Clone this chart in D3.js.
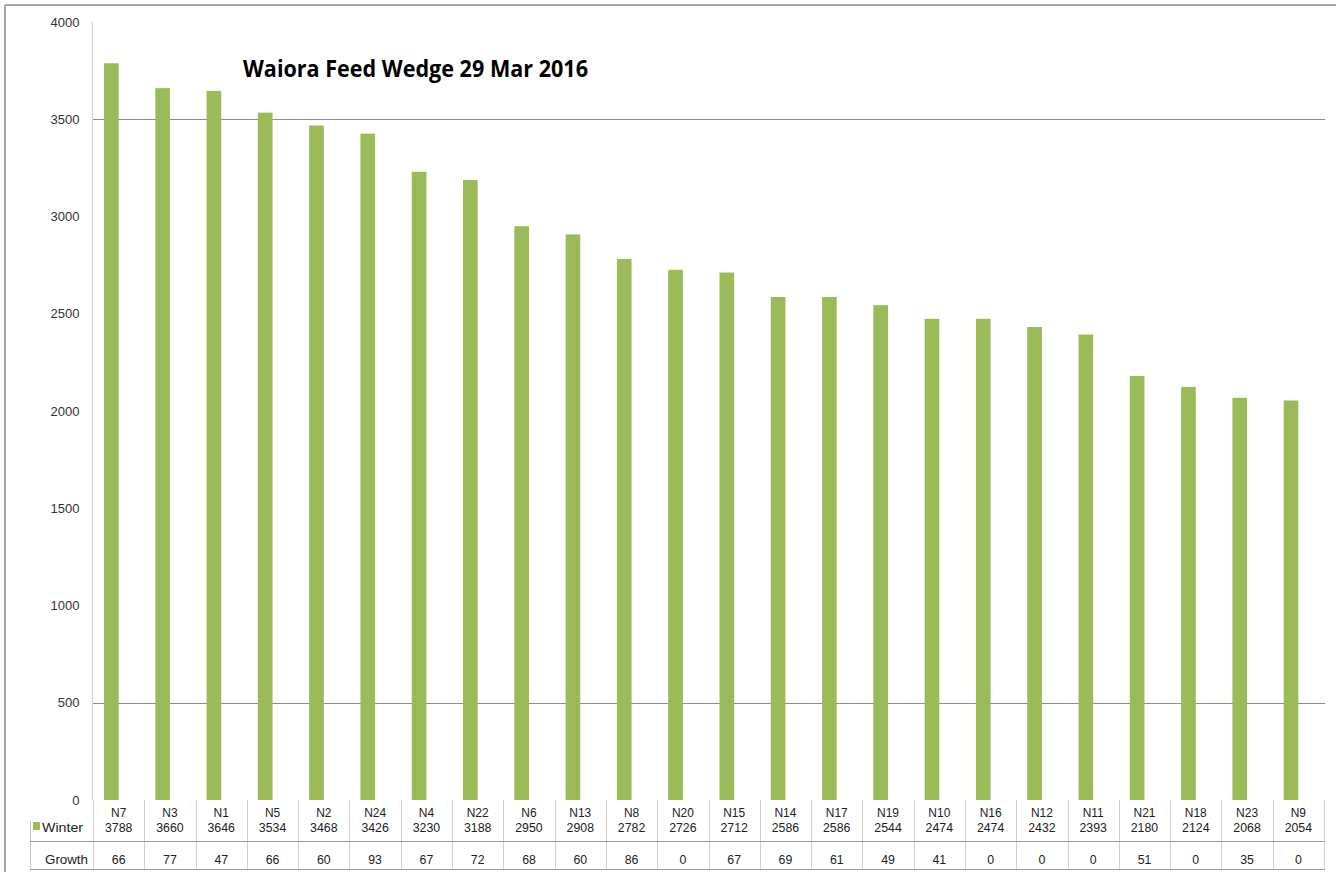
<!DOCTYPE html>
<html>
<head>
<meta charset="utf-8">
<script src="https://cdn.jsdelivr.net/npm/d3@7"></script>
<style>
  body { margin: 0; background: #fff; }
  svg { display: block; font-family: "Liberation Sans", Arial, sans-serif; }
</style>
</head>
<body>
<div id="chart"></div>
<script>
// paddocks, sorted by cover
var paddocks = ["N7","N3","N1","N5","N2","N24","N4","N22","N6","N13","N8","N20","N15","N14","N17","N19","N10","N16","N12","N11","N21","N18","N23","N9"];
var winter = [3788,3660,3646,3534,3468,3426,3230,3188,2950,2908,2782,2726,2712,2586,2586,2544,2474,2474,2432,2393,2180,2124,2068,2054];
var growth = [66,77,47,66,60,93,67,72,68,60,86,0,67,69,61,49,41,0,0,0,51,0,35,0];
var seriesNames = ["Winter","Growth"];
var yTicks = [0,500,1000,1500,2000,2500,3000,3500,4000];
var gridValues = [500,3500]; // only these show in the picture
var title = "Waiora Feed Wedge 29 Mar 2016";

var W = 1336, H = 872;
var plot = {left: 93, right: 1324, top: 22, bottom: 800};

var svg = d3.select("#chart").append("svg")
    .attr("width", W)
    .attr("height", H);

// chart frame (only left + top edges visible)
svg.append("line").attr("x1", 5).attr("x2", 5).attr("y1", 5).attr("y2", H)
    .attr("stroke", "#a6a6a6").attr("stroke-width", 2);
svg.append("line").attr("x1", 5).attr("x2", W).attr("y1", 5).attr("y2", 5)
    .attr("stroke", "#a6a6a6").attr("stroke-width", 2);

var x0 = d3.scaleBand().domain(paddocks).range([plot.left, plot.right]);
var x1 = d3.scaleBand().domain(seriesNames).range([0, x0.bandwidth()])
    .paddingInner(0).paddingOuter(0.75);
var y = d3.scaleLinear().domain([0, 4000]).range([plot.bottom, plot.top]);

// gridlines
svg.append("g").selectAll("line").data(gridValues).join("line")
    .attr("x1", plot.left).attr("x2", plot.right + 1)
    .attr("y1", function(d){ return Math.round(y(d)) + 0.5; })
    .attr("y2", function(d){ return Math.round(y(d)) + 0.5; })
    .attr("stroke", "#8c8c8c");

// y axis
var yAxis = d3.axisLeft(y).tickValues(yTicks).tickSize(0).tickPadding(13).tickFormat(d3.format("d"));
var ga = svg.append("g").attr("transform", "translate(" + (plot.left - 0.5) + ",0)").call(yAxis);
ga.select(".domain").attr("stroke", "#d0d0d0").attr("d", "M0," + plot.top + "V" + plot.bottom);
ga.selectAll("text").attr("font-size", 13).attr("fill", "#333")
    .attr("font-family", "Liberation Sans, Arial, sans-serif");

// bars
var rows = paddocks.map(function(p, i){ return {name: p, Winter: winter[i], Growth: growth[i]}; });
var groups = svg.append("g").selectAll("g").data(rows).join("g")
    .attr("transform", function(d){ return "translate(" + x0(d.name) + ",0)"; });
groups.selectAll("rect").data(function(d){
        return seriesNames.map(function(s){ return {key: s, value: d[s]}; });
    }).join("rect")
    .attr("x", function(d){ return x1(d.key); })
    .attr("width", x1.bandwidth())
    .attr("y", function(d){ return y(d.value); })
    .attr("height", function(d){ return y(0) - y(d.value); })
    .attr("fill", function(d){ return d.key == "Winter" ? "#9bbb59" : "none"; });

// data table under the axis
var tbl = {labelLeft: 30, catY: 816.5, winY: 831.5, sepY: 841.5, growY: 863.5, bottom: 869.5};
var tg = svg.append("g");
// column separators
var edges = paddocks.map(function(p){ return x0(p); }).concat([plot.right]);
tg.selectAll("line.v").data(edges).join("line").attr("class", "v")
    .attr("x1", function(d){ return Math.round(d) + 0.5; })
    .attr("x2", function(d){ return Math.round(d) + 0.5; })
    .attr("y1", plot.bottom).attr("y2", tbl.bottom)
    .attr("stroke", "#d0d0d0");
tg.append("line").attr("x1", tbl.labelLeft + 0.5).attr("x2", tbl.labelLeft + 0.5)
    .attr("y1", 821).attr("y2", tbl.bottom).attr("stroke", "#c8c8c8");
[tbl.sepY, tbl.bottom].forEach(function(yy){
    tg.append("line").attr("x1", tbl.labelLeft).attr("x2", plot.right + 1)
      .attr("y1", yy).attr("y2", yy).attr("stroke", "#9a9a9a");
});

function cellText(xx, yy, txt, sx) {
    tg.append("text")
      .attr("transform", "translate(" + xx + "," + yy + ") scale(" + sx + ",1)")
      .attr("text-anchor", "middle")
      .attr("font-size", 13)
      .attr("fill", "#222")
      .text(txt);
}
paddocks.forEach(function(p, i){
    var cx = x0(p) + x0.bandwidth() / 2;
    cellText(cx, tbl.catY, p, 0.92);
    cellText(cx, tbl.winY, winter[i], 0.95);
    cellText(cx, tbl.growY, growth[i], 0.95);
});

// row labels
tg.append("rect").attr("x", 33).attr("y", 822).attr("width", 7).attr("height", 8).attr("fill", "#9bbb59");
tg.append("text").attr("x", 42).attr("y", tbl.winY).attr("font-size", 13).attr("fill", "#222")
    .attr("textLength", 41).attr("lengthAdjust", "spacingAndGlyphs").text(seriesNames[0]);
tg.append("text").attr("x", 45).attr("y", tbl.growY).attr("font-size", 13).attr("fill", "#222")
    .attr("textLength", 43).attr("lengthAdjust", "spacingAndGlyphs").text(seriesNames[1]);

// title
svg.append("text").attr("x", 243).attr("y", 77)
    .attr("font-size", 23).attr("font-weight", "bold").attr("fill", "#000")
    .attr("font-family", "Open Sans, Liberation Sans, sans-serif")
    .attr("textLength", 345).attr("lengthAdjust", "spacingAndGlyphs")
    .text(title);
</script>
</body>
</html>
